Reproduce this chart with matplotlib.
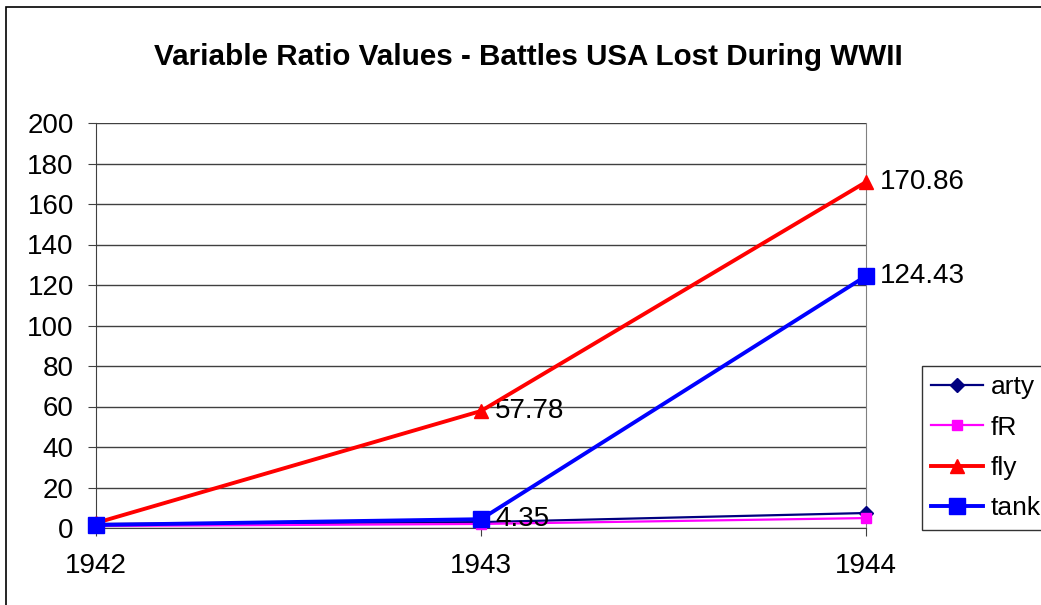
import matplotlib
matplotlib.use("Agg")
import matplotlib.pyplot as plt
from matplotlib.patches import Rectangle

plt.rcParams['font.family'] = ['Liberation Sans', 'DejaVu Sans']

years = ["1942", "1943", "1944"]
arty = [2.0, 2.9, 7.4]
fR = [1.0, 2.0, 4.9]
fly = [2.5, 57.78, 170.86]
tank = [1.5, 4.35, 124.43]
labels_fly = {1: "57.78", 2: "170.86"}
labels_tank = {1: "4.35", 2: "124.43"}
yticks = [0, 20, 40, 60, 80, 100, 120, 140, 160, 180, 200]

W, H = 1041, 605
fig = plt.figure(figsize=(W/100, H/100), dpi=100)
fig.patches.append(Rectangle((6/W, -0.1), 1.2, 1 - 7/H + 0.1, transform=fig.transFigure,
                             fill=False, edgecolor='black', linewidth=1.2))

ax = fig.add_axes([96/W, 1 - 528/H, (866-96)/W, (528-123)/H])
x = list(range(len(years)))

ax.plot(x, arty, color='#000080', lw=1.6, marker='D', ms=7, label='arty', zorder=3, clip_on=False)
ax.plot(x, fR, color='#FF00FF', lw=1.6, marker='s', ms=7, label='fR', zorder=3, clip_on=False)
ax.plot(x, fly, color='#FF0000', lw=2.8, marker='^', ms=10, label='fly', zorder=4, clip_on=False)
ax.plot(x, tank, color='#0000FF', lw=2.8, marker='s', ms=12, label='tank', zorder=5, clip_on=False)

for i, t in labels_fly.items():
    ax.annotate(t, (x[i], fly[i]), xytext=(10, 0), textcoords='offset points',
                va='center', ha='left', fontsize=20)
for i, t in labels_tank.items():
    ax.annotate(t, (x[i], tank[i]), xytext=(10, 0), textcoords='offset points',
                va='center', ha='left', fontsize=20)

ax.set_xlim(0, 2)
ax.set_ylim(0, 200)
ax.set_yticks(yticks)
ax.set_xticks(x)
ax.set_xticklabels(years)
ax.tick_params(axis='both', labelsize=20, direction='out', length=6, color='#404040')
ax.tick_params(axis='x', pad=12)
ax.tick_params(axis='y', pad=10)
ax.yaxis.grid(True, color='#404040', lw=1)
ax.set_axisbelow(True)
ax.spines['top'].set_visible(False)
ax.spines['right'].set_color('#808080')
ax.spines['left'].set_color('#404040')
ax.spines['bottom'].set_color('#404040')

fig.text(528/W, 1 - 57/H, "Variable Ratio Values - Battles USA Lost During WWII",
         ha='center', va='center', fontsize=21.3, fontweight='bold')

leg = fig.legend(loc='upper left', bbox_to_anchor=(922/W, 1 - 366/H), fontsize=19,
                 frameon=True, fancybox=False, edgecolor='black', handlelength=1.95,
                 labelspacing=0.62, borderpad=0.35, handletextpad=0.3, borderaxespad=0)
leg.get_frame().set_linewidth(1.0)

fig.savefig("out.png", dpi=100)
